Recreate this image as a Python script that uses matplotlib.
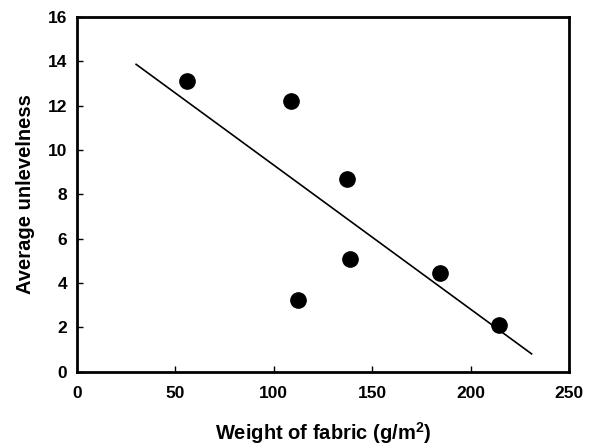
import matplotlib
matplotlib.use("Agg")
import matplotlib.pyplot as plt
import numpy as np

plt.rcParams['font.family'] = ['Liberation Sans', 'DejaVu Sans']
plt.rcParams['font.weight'] = 'bold'
plt.rcParams['mathtext.fontset'] = 'custom'
plt.rcParams['mathtext.rm'] = 'Liberation Sans:bold'
plt.rcParams['mathtext.bf'] = 'Liberation Sans:bold'

# fabric weight (g/m2) vs average unlevelness
weight = [56, 108.5, 112.5, 137, 138.5, 184.5, 214.5]
unlevelness = [13.1, 12.2, 3.25, 8.7, 5.1, 4.45, 2.1]
fit_range = [30, 231]

x_ticks = [0, 50, 100, 150, 200, 250]
y_ticks = [0, 2, 4, 6, 8, 10, 12, 14, 16]

fig = plt.figure(figsize=(5.93, 4.48), dpi=100)
ax = fig.add_axes([0.130, 0.170, 0.8295, 0.792])

ax.plot(weight, unlevelness, 'o', color='black', markersize=11, zorder=3)

# linear trend line
slope, intercept = np.polyfit(weight, unlevelness, 1)
xf = np.array(fit_range)
ax.plot(xf, slope * xf + intercept, color='black', linewidth=1.2)

ax.set_xlim(0, 250)
ax.set_ylim(0, 16)
ax.set_xticks(x_ticks)
ax.set_yticks(y_ticks)
ax.tick_params(direction='in', length=4, width=1, labelsize=12.5)
ax.tick_params(axis='x', pad=10)
ax.tick_params(axis='y', pad=7)
for lbl in ax.get_xticklabels() + ax.get_yticklabels():
    lbl.set_fontweight('bold')
for s in ax.spines.values():
    s.set_linewidth(2)

ax.set_xlabel(r'Weight of fabric (g/m$^{\mathbf{2}}$)', fontsize=14.5, fontweight='bold', labelpad=14)
ax.set_ylabel('Average unlevelness', fontsize=14.5, fontweight='bold', labelpad=9)

fig.savefig('out.png', dpi=100)
